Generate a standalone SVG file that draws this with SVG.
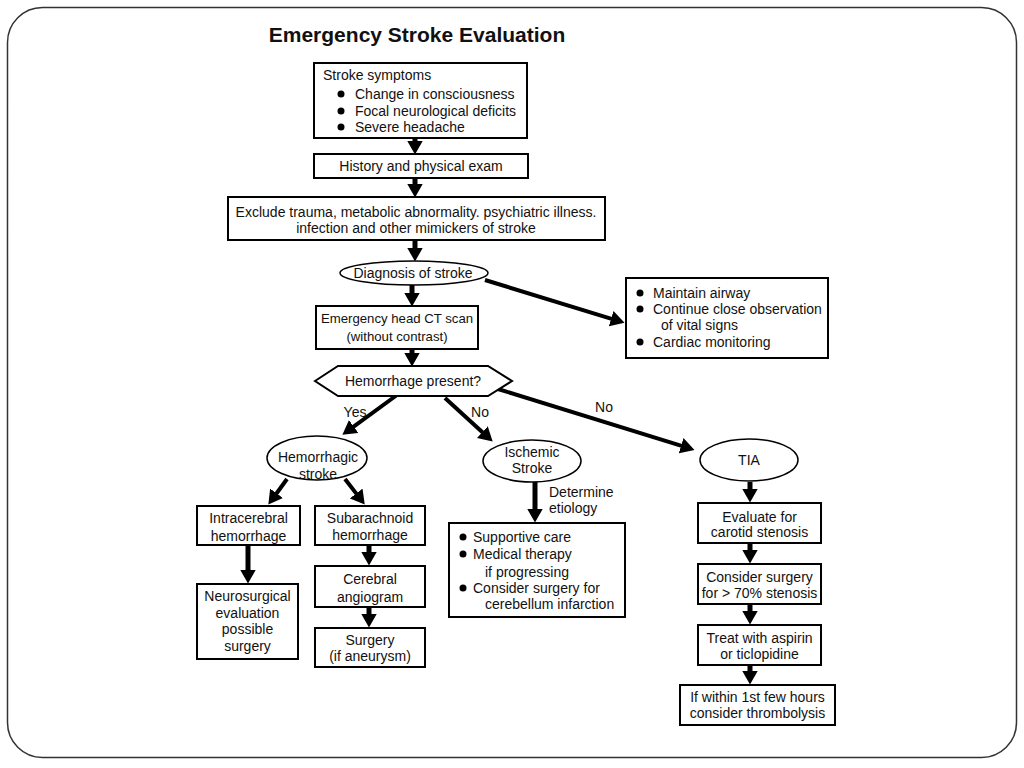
<svg xmlns="http://www.w3.org/2000/svg" width="1024" height="768" viewBox="0 0 1024 768">
<defs>
<marker id="ah" viewBox="0 0 14 16" refX="0.5" refY="8" markerWidth="14" markerHeight="16" markerUnits="userSpaceOnUse" orient="auto">
<path d="M0,0 L14,8 L0,16 z" fill="#000"/>
</marker>
<style>
.t{font-family:"Liberation Sans",Arial,sans-serif;font-size:14px;fill:#111}
.c{text-anchor:middle}
.box{fill:#fff;stroke:#000;stroke-width:2}
.ell{fill:#fff;stroke:#000;stroke-width:1.5}
.arr{stroke:#000;stroke-width:5;fill:none;marker-end:url(#ah)}
.darr{stroke:#000;stroke-width:4;fill:none;marker-end:url(#ah)}
.dot{fill:#000}
</style>
</defs>
<rect x="7.5" y="7.5" width="1009" height="750" rx="35" fill="#fff" stroke="#333" stroke-width="1.5"/>
<text x="417" y="42" text-anchor="middle" style="font-family:'Liberation Sans',Arial,sans-serif;font-size:21px;font-weight:bold;fill:#111">Emergency Stroke Evaluation</text>

<g id="connectors">
<line class="arr" x1="415" y1="138" x2="415" y2="141"/>
<line class="arr" x1="415" y1="178" x2="415" y2="184"/>
<line class="arr" x1="415" y1="240" x2="415" y2="248"/>
<line class="arr" x1="412" y1="285" x2="412" y2="293"/>
<line class="arr" x1="412" y1="349" x2="412" y2="353"/>
<line class="darr" x1="485" y1="280" x2="611.6" y2="318.9"/>
<line class="darr" x1="397" y1="395" x2="353.3" y2="426.8"/>
<line class="darr" x1="445" y1="398" x2="482.7" y2="432.5"/>
<line class="darr" x1="498" y1="389" x2="681.6" y2="445.9"/>
<line class="darr" x1="287" y1="479" x2="276.3" y2="493.7"/>
<line class="darr" x1="345" y1="479" x2="356.5" y2="493.9"/>
<line class="arr" x1="248" y1="545" x2="248" y2="570"/>
<line class="arr" x1="369" y1="545" x2="369" y2="552"/>
<line class="arr" x1="369" y1="607" x2="369" y2="614"/>
<line class="arr" x1="535" y1="482" x2="535" y2="509"/>
<line class="arr" x1="750" y1="482" x2="750" y2="489"/>
<line class="arr" x1="750" y1="543" x2="750" y2="550"/>
<line class="arr" x1="750" y1="604" x2="750" y2="611"/>
<line class="arr" x1="750" y1="665" x2="750" y2="671"/>
<text class="t c" x="355" y="417">Yes</text>
<text class="t c" x="480" y="417">No</text>
<text class="t c" x="604" y="412">No</text>
<text class="t" x="549" y="497">Determine</text>
<text class="t" x="549" y="513">etiology</text>
</g>

<g id="symptoms">
<rect class="box" x="314" y="63" width="213" height="75"/>
<text class="t" x="323" y="80">Stroke symptoms</text>
<circle class="dot" cx="341" cy="94" r="3.5"/>
<circle class="dot" cx="341" cy="111" r="3.5"/>
<circle class="dot" cx="341" cy="127" r="3.5"/>
<text class="t" x="355" y="99">Change in consciousness</text>
<text class="t" x="355" y="116">Focal neurological deficits</text>
<text class="t" x="355" y="132">Severe headache</text>
</g>

<g id="history">
<rect class="box" x="314" y="154" width="214" height="24"/>
<text class="t c" x="421" y="171">History and physical exam</text>
</g>

<g id="exclude">
<rect class="box" x="228" y="197" width="377" height="43"/>
<text class="t c" x="416" y="217">Exclude trauma, metabolic abnormality. psychiatric illness.</text>
<text class="t c" x="416" y="233">infection and other mimickers of stroke</text>
</g>

<g id="diagnosis">
<ellipse class="ell" cx="414" cy="273" rx="74" ry="12"/>
<text class="t c" x="413" y="278">Diagnosis of stroke</text>
</g>

<g id="maintain">
<rect class="box" x="626" y="278" width="202" height="80"/>
<circle class="dot" cx="640" cy="293" r="3.5"/>
<circle class="dot" cx="640" cy="309" r="3.5"/>
<circle class="dot" cx="640" cy="342" r="3.5"/>
<text class="t" x="653" y="298">Maintain airway</text>
<text class="t" x="653" y="314">Continue close observation</text>
<text class="t" x="661" y="330">of vital signs</text>
<text class="t" x="653" y="347">Cardiac monitoring</text>
</g>

<g id="ct">
<rect class="box" x="316" y="306" width="162" height="43"/>
<text class="t c" x="397" y="323" style="font-size:13.2px">Emergency head CT scan</text>
<text class="t c" x="397" y="341" style="font-size:13.2px">(without contrast)</text>
</g>

<g id="hemorrhage">
<polygon class="box" points="315,381 338,366 488,366 512,381 488,396 338,396"/>
<text class="t c" x="413" y="386">Hemorrhage present?</text>
</g>

<g id="hemorrhagic">
<ellipse class="ell" cx="317" cy="458" rx="50" ry="22"/>
<text class="t c" x="318" y="462">Hemorrhagic</text>
<text class="t c" x="318" y="479">stroke</text>
</g>

<g id="ischemic">
<ellipse class="ell" cx="532" cy="461" rx="49" ry="21"/>
<text class="t c" x="532" y="457">Ischemic</text>
<text class="t c" x="532" y="473">Stroke</text>
</g>

<g id="tia">
<ellipse class="ell" cx="749" cy="460" rx="49" ry="21"/>
<text class="t c" x="749" y="465">TIA</text>
</g>

<g id="intracerebral">
<rect class="box" x="197" y="506" width="103" height="39"/>
<text class="t c" x="248.5" y="523">Intracerebral</text>
<text class="t c" x="248.5" y="541">hemorrhage</text>
</g>

<g id="neurosurgical">
<rect class="box" x="197" y="584" width="101" height="75"/>
<text class="t c" x="247.5" y="601">Neurosurgical</text>
<text class="t c" x="247.5" y="618">evaluation</text>
<text class="t c" x="247.5" y="634">possible</text>
<text class="t c" x="247.5" y="651">surgery</text>
</g>

<g id="subarachnoid">
<rect class="box" x="315" y="506" width="110" height="39"/>
<text class="t c" x="370" y="523">Subarachnoid</text>
<text class="t c" x="370" y="540">hemorrhage</text>
</g>

<g id="angiogram">
<rect class="box" x="315" y="566" width="110" height="41"/>
<text class="t c" x="370" y="584">Cerebral</text>
<text class="t c" x="370" y="602">angiogram</text>
</g>

<g id="surgery">
<rect class="box" x="315" y="628" width="110" height="39"/>
<text class="t c" x="370" y="645">Surgery</text>
<text class="t c" x="370" y="661">(if aneurysm)</text>
</g>

<g id="supportive">
<rect class="box" x="449" y="523" width="176" height="94"/>
<circle class="dot" cx="463" cy="537" r="3.5"/>
<circle class="dot" cx="463" cy="554" r="3.5"/>
<circle class="dot" cx="463" cy="588" r="3.5"/>
<text class="t" x="473" y="542">Supportive care</text>
<text class="t" x="473" y="559">Medical therapy</text>
<text class="t" x="485" y="577">if progressing</text>
<text class="t" x="473" y="593">Consider surgery for</text>
<text class="t" x="485" y="609">cerebellum infarction</text>
</g>

<g id="evaluate">
<rect class="box" x="698" y="503" width="123" height="40"/>
<text class="t c" x="759.5" y="522">Evaluate for</text>
<text class="t c" x="759.5" y="537">carotid stenosis</text>
</g>

<g id="consider">
<rect class="box" x="698" y="564" width="123" height="40"/>
<text class="t c" x="759.5" y="582">Consider surgery</text>
<text class="t c" x="759.5" y="598">for &gt; 70% stenosis</text>
</g>

<g id="treat">
<rect class="box" x="698" y="625" width="123" height="40"/>
<text class="t c" x="759.5" y="643">Treat with aspirin</text>
<text class="t c" x="759.5" y="659">or ticlopidine</text>
</g>

<g id="thrombolysis">
<rect class="box" x="680" y="685" width="155" height="40"/>
<text class="t c" x="757.5" y="702">If within 1st few hours</text>
<text class="t c" x="757.5" y="718">consider thrombolysis</text>
</g>
</svg>
